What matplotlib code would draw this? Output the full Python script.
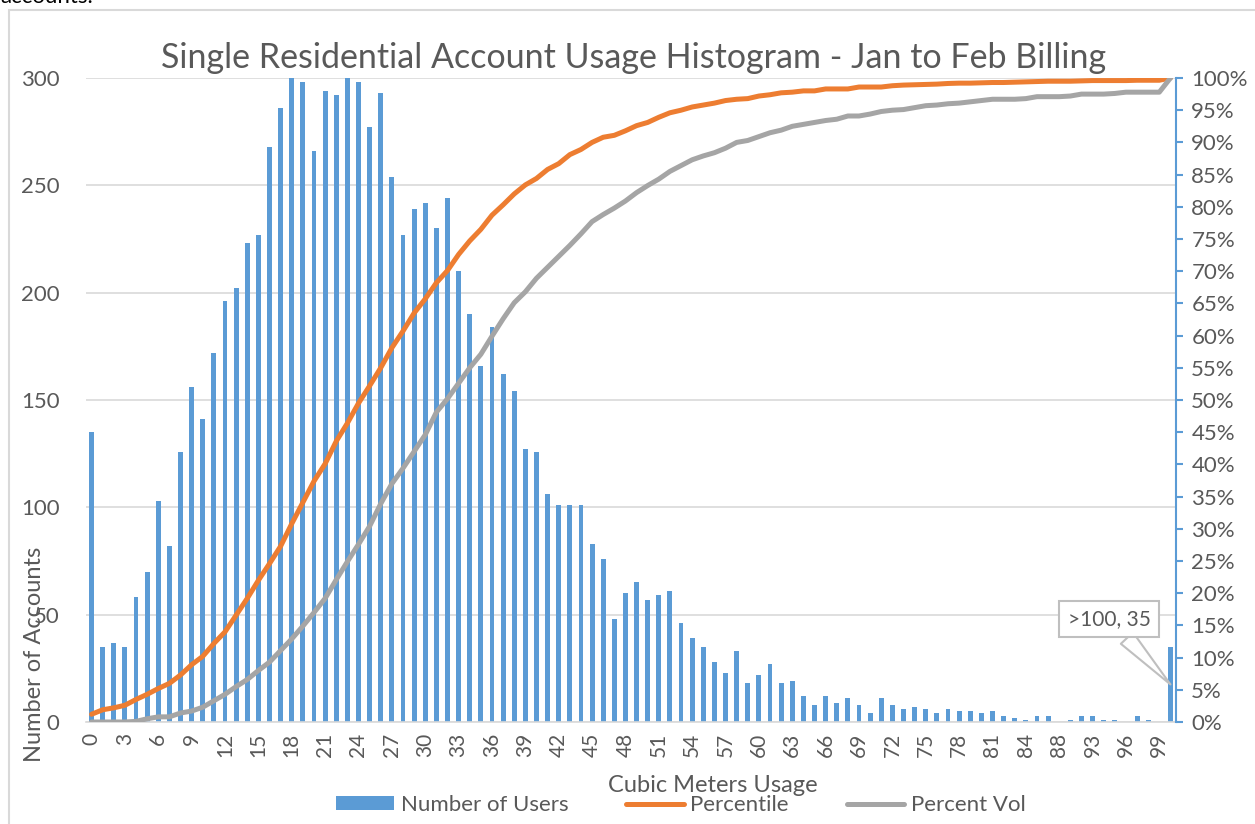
import matplotlib
matplotlib.use('Agg')
import matplotlib.pyplot as plt
import numpy as np
from matplotlib.patches import Rectangle
from matplotlib.ticker import PercentFormatter, MultipleLocator

plt.rcParams['font.family'] = ['Lato', 'DejaVu Sans']

# usage categories (cubic meters), last bucket is everything above 100
categories = [str(v) for v in range(85)] + \
    ['85', '86', '88', '89', '91', '93', '94', '95', '96', '97', '98', '99', '>100']

users = [135, 35, 37, 35, 58, 70, 103, 82, 126, 156, 141, 172, 196, 202, 223, 227,
         268, 286, 300, 298, 266, 294, 292, 300, 298,
         277, 293, 254, 227, 239, 242, 230, 244, 210, 190, 166, 184, 162, 154, 127,
         126, 106, 101, 101, 101, 83, 76, 48,
         60, 65, 57, 59, 61, 46, 39, 35, 28, 23, 33, 18, 22, 27, 18, 19, 12, 8, 12,
         9, 11, 8, 4, 11, 8,
         6, 7, 6, 4, 6, 5, 5, 4, 5, 3, 2, 1, 3, 3, 0, 1, 3, 3, 1, 1, 0, 3, 1, 0, 35]

percentile = [1.2, 1.9, 2.2, 2.6, 3.5, 4.3, 5.2, 6.0, 7.3, 8.9, 10.2, 12.2, 14.0,
              16.6, 19.2, 22.0, 24.6, 27.3, 30.8, 34.1, 37.4, 40.1, 43.6, 46.4, 49.5,
              52.2, 55.0, 58.1, 60.7, 63.5, 65.7, 68.2, 70.1, 72.6, 74.7, 76.5, 78.7,
              80.3, 82.0, 83.4, 84.4, 85.8, 86.7, 88.1, 88.9, 90.0, 90.8, 91.1,
              91.8, 92.6, 93.1, 93.9, 94.6, 95.0, 95.5, 95.8, 96.1, 96.5, 96.7, 96.8,
              97.2, 97.4, 97.7, 97.8, 98.0, 98.0, 98.3, 98.3, 98.3, 98.6, 98.6, 98.6,
              98.8, 98.9, 98.95, 99.0, 99.05, 99.15, 99.2, 99.2, 99.25, 99.3, 99.3,
              99.35, 99.4, 99.45, 99.5, 99.5, 99.5, 99.55, 99.6, 99.6, 99.6, 99.6,
              99.65, 99.65, 99.65, 100.0]

percent_vol = [0, 0, 0, 0, 0.1, 0.5, 0.8, 0.8, 1.4, 1.7, 2.3, 3.3, 4.3, 5.5, 6.6,
               8.0, 9.3, 11.1, 12.9, 14.9, 17.0, 19.2, 22.1, 24.9, 27.6,
               30.4, 33.9, 37.0, 39.4, 42.0, 44.6, 48.1, 50.2, 52.6, 55.0, 57.1, 59.9,
               62.6, 65.1, 66.8, 68.9, 70.6, 72.3, 74.0, 75.8, 77.7, 78.8, 79.8,
               80.9, 82.2, 83.3, 84.3, 85.5, 86.4, 87.3, 87.9, 88.4, 89.1, 90.0, 90.3,
               90.9, 91.5, 91.9, 92.5, 92.8, 93.1, 93.4, 93.6, 94.1, 94.1, 94.4, 94.8,
               95.0, 95.1, 95.4, 95.7, 95.8, 96.0, 96.1, 96.3, 96.5, 96.7, 96.7, 96.7,
               96.8, 97.1, 97.1, 97.1, 97.2, 97.5, 97.5, 97.5, 97.6, 97.8, 97.8, 97.8,
               97.8, 100.0]

grey_txt = '#595959'
blue = '#5B9BD5'
orange = '#ED7D31'
grey = '#A5A5A5'

fig = plt.figure(figsize=(12.55, 8.24), dpi=100)
W, H = 1255, 824

# outer chart border (partly off the picture)
fig.patches.append(Rectangle((9 / W, -0.1), 1.2, 1 - 10 / H + 0.1, transform=fig.transFigure,
                             fill=False, ec='#D9D9D9', lw=1.5))
fig.text(0, 1 + 3 / H, 'accounts.', fontsize=16, color='black', ha='left', va='center')

ax = fig.add_axes([86 / W, 1 - 722 / H, (1176 - 86) / W, (722 - 78) / H])
ax2 = ax.twinx()

x = np.arange(len(categories))
ax.bar(x, users, width=0.44, color=blue, zorder=2, label='Number of Users')
ax2.plot(x, np.array(percentile) / 100, color=orange, lw=3.6, solid_capstyle='round',
         label='Percentile')
ax2.plot(x, np.array(percent_vol) / 100, color=grey, lw=3.6, solid_capstyle='round',
         label='Percent Vol')

ax.set_xlim(-0.5, len(categories) - 0.5)
ax.set_ylim(0, 300)
ax2.set_ylim(0, 1)
ax.set_yticks(range(0, 301, 50))
ax.grid(axis='y', color='#D9D9D9', lw=1.2, zorder=0)
ax.set_axisbelow(True)
ax.set_xticks(x[::3])
ax.set_xticklabels(categories[::3][:len(x[::3])], rotation=90)

ax2.yaxis.set_major_locator(MultipleLocator(0.05))
ax2.yaxis.set_major_formatter(PercentFormatter(1.0, decimals=0))

for a in (ax, ax2):
    for s in ('top', 'left'):
        a.spines[s].set_visible(False)
ax.spines['right'].set_visible(False)
ax2.spines['bottom'].set_visible(False)
ax.spines['bottom'].set_color('#D9D9D9')
ax.spines['bottom'].set_linewidth(1.2)
ax2.spines['right'].set_color(blue)
ax2.spines['right'].set_linewidth(1.5)

ax.tick_params(axis='y', length=0, labelsize=16, labelcolor=grey_txt, pad=19)
ax.tick_params(axis='x', length=0, labelsize=15, labelcolor=grey_txt, pad=8)
ax2.tick_params(axis='y', length=5, width=1.5, color=blue, labelsize=16,
                labelcolor=grey_txt, pad=6)

fig.text(634 / W, 1 - 58 / H, 'Single Residential Account Usage Histogram - Jan to Feb Billing',
         fontsize=24.5, color=grey_txt, ha='center', va='center')
fig.text(35 / W, 1 - 654 / H, 'Number of Accounts', fontsize=17, color=grey_txt,
         rotation=90, ha='center', va='center')
fig.text(713 / W, 1 - 786 / H, 'Cubic Meters Usage', fontsize=17, color=grey_txt,
         ha='center', va='center')

# data callout for the last bucket
ax.annotate(f'{categories[-1]}, {users[-1]}', xy=(x[-1], users[-1] / 2),
            xytext=(1109, H - 619), textcoords='figure pixels',
            ha='center', va='center', fontsize=15, color=grey_txt,
            bbox=dict(boxstyle='square,pad=0.4', fc='white', ec='#BFBFBF', lw=1.5),
            arrowprops=dict(arrowstyle='wedge,tail_width=0.8', fc='white', ec='#BFBFBF',
                            lw=1.5, shrinkA=0, shrinkB=0))

h1, l1 = ax.get_legend_handles_labels()
h2, l2 = ax2.get_legend_handles_labels()
fig.legend(h1 + h2, l1 + l2, loc='center', bbox_to_anchor=(681 / W, 1 - 805 / H), ncol=3,
           frameon=False, fontsize=16, labelcolor=grey_txt, handlelength=2.6,
           handleheight=0.6, handletextpad=0.3, columnspacing=2.6)

fig.savefig('out.png', dpi=100)
